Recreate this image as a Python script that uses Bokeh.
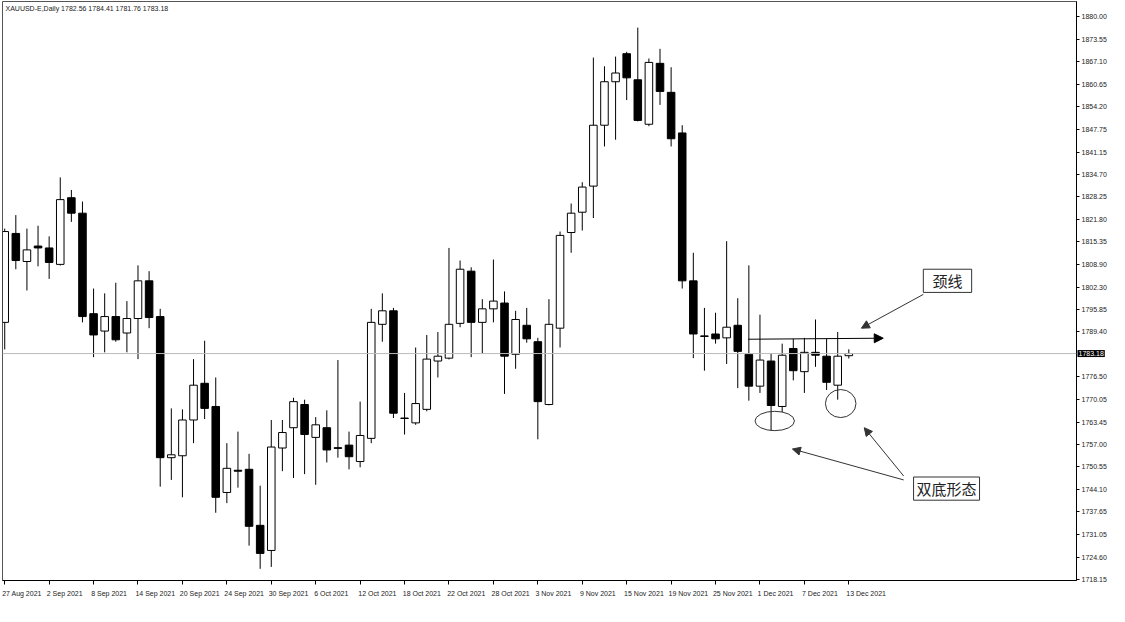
from bokeh.plotting import figure
from bokeh.models import (Range1d, FixedTicker, Span, Label, Arrow, NormalHead,
                          ColumnDataSource, PrintfTickFormatter)
from bokeh.embed import file_html
from bokeh.resources import INLINE
from bokeh.core.properties import value

# ---------------- data (XAUUSD daily, 27 Aug 2021 - 13 Dec 2021) ----------------
opens = [1792.15, 1817.73, 1809.66, 1814.11, 1813.56, 1808.83, 1828.01, 1823.56, 1794.65, 1789.65,
         1793.82, 1789.09, 1793.26, 1804.10, 1793.82, 1753.23, 1753.78, 1764.07, 1774.63, 1767.96,
         1743.22, 1749.61, 1749.89, 1733.77, 1726.54, 1756.01, 1761.85, 1768.52, 1759.07, 1761.85,
         1756.10, 1756.84, 1752.12, 1758.79, 1791.59, 1795.48, 1764.63, 1763.24, 1767.13, 1781.03,
         1781.86, 1791.87, 1806.88, 1792.15, 1796.04, 1797.71, 1782.97, 1791.31, 1786.59, 1768.52,
         1790.48, 1818.00, 1823.84, 1831.35, 1848.86, 1861.37, 1869.44, 1861.93, 1849.14, 1866.66,
         1858.32, 1846.64, 1804.10, 1788.26, 1788.81, 1787.70, 1791.31, 1782.97, 1773.80, 1781.03,
         1767.96, 1784.64, 1777.97, 1783.53, 1782.42, 1774.08, 1782.56]
highs = [1819.12, 1823.01, 1819.12, 1819.95, 1816.89, 1833.85, 1830.24, 1826.90, 1801.88, 1800.49,
         1803.55, 1798.27, 1808.55, 1806.88, 1796.04, 1767.41, 1767.13, 1781.58, 1786.87, 1776.30,
         1757.40, 1760.73, 1754.34, 1745.17, 1764.07, 1764.07, 1770.46, 1769.91, 1764.90, 1766.85,
         1781.31, 1760.73, 1769.35, 1796.04, 1800.49, 1796.32, 1771.85, 1784.92, 1788.53, 1789.37,
         1813.56, 1809.94, 1808.00, 1798.82, 1810.22, 1801.05, 1795.48, 1796.32, 1787.70, 1798.82,
         1818.28, 1826.34, 1832.46, 1868.32, 1865.82, 1868.60, 1869.99, 1876.94, 1868.05, 1870.83,
         1865.54, 1848.86, 1812.17, 1796.32, 1794.93, 1815.50, 1799.10, 1808.55, 1794.37, 1783.25,
         1786.03, 1787.42, 1787.70, 1792.98, 1787.42, 1789.37, 1784.41]
lows = [1784.36, 1807.44, 1801.32, 1808.27, 1804.66, 1808.50, 1821.06, 1792.15, 1782.14, 1783.53,
        1786.59, 1783.53, 1781.58, 1790.48, 1744.89, 1746.83, 1741.83, 1757.40, 1764.35, 1737.38,
        1740.16, 1744.61, 1727.93, 1721.26, 1721.81, 1749.34, 1747.39, 1748.50, 1745.44, 1751.84,
        1753.23, 1749.89, 1750.45, 1757.40, 1786.59, 1764.63, 1759.90, 1762.68, 1766.57, 1776.30,
        1781.50, 1790.76, 1782.14, 1783.25, 1792.15, 1771.58, 1778.80, 1786.31, 1758.51, 1768.30,
        1784.92, 1812.17, 1818.56, 1822.17, 1842.75, 1844.69, 1856.09, 1849.97, 1848.58, 1854.70,
        1842.75, 1801.88, 1781.86, 1778.25, 1786.03, 1780.19, 1773.24, 1769.63, 1771.85, 1761.01,
        1766.29, 1775.47, 1771.85, 1779.36, 1772.69, 1769.91, 1781.76]
closes = [1818.28, 1809.94, 1813.00, 1813.56, 1809.39, 1827.46, 1823.56, 1793.82, 1788.53, 1793.82,
          1787.14, 1793.26, 1804.10, 1793.54, 1753.23, 1754.06, 1764.07, 1774.08, 1767.41, 1741.83,
          1750.17, 1749.34, 1733.49, 1725.70, 1756.29, 1760.46, 1769.35, 1759.90, 1762.68, 1755.45,
          1755.90, 1753.51, 1759.62, 1792.15, 1795.48, 1766.02, 1764.50, 1768.80, 1781.58, 1782.42,
          1791.59, 1807.44, 1792.15, 1796.04, 1798.27, 1782.42, 1792.98, 1787.42, 1769.35, 1791.59,
          1817.17, 1823.56, 1831.07, 1848.86, 1861.37, 1863.88, 1862.49, 1850.25, 1866.93, 1858.59,
          1844.97, 1804.10, 1788.81, 1788.10, 1787.42, 1790.76, 1783.81, 1773.80, 1781.31, 1768.24,
          1782.70, 1778.25, 1783.53, 1782.70, 1774.91, 1782.42, 1783.18]

date_labels = ["27 Aug 2021", "2 Sep 2021", "8 Sep 2021", "14 Sep 2021", "20 Sep 2021",
               "24 Sep 2021", "30 Sep 2021", "6 Oct 2021", "12 Oct 2021", "18 Oct 2021",
               "22 Oct 2021", "28 Oct 2021", "3 Nov 2021", "9 Nov 2021", "15 Nov 2021",
               "19 Nov 2021", "25 Nov 2021", "1 Dec 2021", "7 Dec 2021", "13 Dec 2021"]
date_label_bars = [0, 4, 8, 12, 16, 20, 24, 28, 32, 36, 40, 44, 48, 52, 56, 60, 64, 68, 72, 76]

price_ticks = [1880.00, 1873.55, 1867.10, 1860.65, 1854.20, 1847.75, 1841.15, 1834.70, 1828.25,
               1821.80, 1815.35, 1808.90, 1802.30, 1795.85, 1789.40, 1776.50, 1770.05, 1763.45,
               1757.00, 1750.55, 1744.10, 1737.65, 1731.05, 1724.60, 1718.15]

last_price = 1783.18
title_text = "XAUUSD-E,Daily  1782.56 1784.41 1781.76 1783.18"
neck_text = "颈线"
pattern_text = "双底形态"

# ---------------- figure ----------------
FONT = "Liberation Sans"
X0, X1 = -0.2, 96.5
p = figure(width=1109, height=606, x_range=Range1d(X0, X1), y_range=Range1d(1717.9, 1884.45),
           y_axis_location="right", output_backend="svg", toolbar_location=None,
           min_border_left=2, min_border_right=0, min_border_top=1, min_border_bottom=0)
p.background_fill_color = "white"
p.border_fill_color = "white"
p.outline_line_color = "#555555"
p.xgrid.visible = False
p.ygrid.visible = False

# date labels start at their bar (MT4 style): shift label anchor by half the label width
label_pos = [b + 0.155 * len(l) - 0.15 for b, l in zip(date_label_bars, date_labels)]
xa = p.xaxis[0]
xa.ticker = FixedTicker(ticks=label_pos, minor_ticks=date_label_bars)
xa.major_label_overrides = {pos: l for pos, l in zip(label_pos, date_labels)}
xa.major_tick_line_color = None
xa.minor_tick_line_color = "black"
xa.minor_tick_in = 0
xa.minor_tick_out = 4
xa.major_label_standoff = 3
ya = p.yaxis[0]
ya.ticker = FixedTicker(ticks=price_ticks)
ya.formatter = PrintfTickFormatter(format="%.2f")
ya.major_tick_line_color = "black"
ya.minor_tick_line_color = None
ya.major_tick_in = 0
ya.major_tick_out = 3
ya.major_label_standoff = 2
ya.axis_label_standoff = 0
for ax in (xa, ya):
    ax.major_label_text_font = FONT
    ax.major_label_text_font_size = "7px"
    ax.major_label_text_color = "#222222"
    ax.axis_line_color = "black"

# current price line
p.add_layout(Span(location=last_price, dimension="width", line_color="#bbbbbb", line_width=1))

# candles
n = len(opens)
idx = list(range(n))
up = [c >= o for o, c in zip(opens, closes)]
src = ColumnDataSource(dict(
    x=idx, high=highs, low=lows,
    top=[max(o, c) for o, c in zip(opens, closes)],
    bottom=[min(o, c) for o, c in zip(opens, closes)],
    fill=["white" if u else "black" for u in up],
))
p.segment(x0="x", y0="high", x1="x", y1="low", source=src, line_color="black", line_width=1)
p.vbar(x="x", width=0.68, top="top", bottom="bottom", source=src,
       fill_color="fill", line_color="black", line_width=1)

# title
p.add_layout(Label(x=X0, y=1884.45, x_offset=3, y_offset=-3, text=title_text,
                   text_font=FONT, text_font_size="7px", text_color="#222222",
                   text_baseline="top", text_align="left"))

# current price tag on the price axis (lives in a thin side panel so it is not clipped)
tag = Label(x=X1, y=last_price, x_offset=1, text="%.2f" % last_price,
            text_font=FONT, text_font_size="7px", text_color="white",
            text_baseline="middle", text_align="left",
            background_fill_color="black", padding=1)
p.add_layout(tag, "below")

# ---------------- annotations ----------------
p.add_layout(Arrow(x_start=66.93, y_start=1787.3, x_end=79.1, y_end=1787.6,
                   line_color="black", line_width=1,
                   end=NormalHead(size=9, fill_color="black", line_color="black")))
p.quad(left=[82.71], right=[87.06], top=[1807.44], bottom=[1800.77],
       fill_color="white", line_color="#333333", line_width=1)
p.text(x=[84.88], y=[1804.1], text=[neck_text], text_font=value("Noto Sans CJK SC"),
       text_font_size="15px", text_align="center", text_baseline="middle", text_color="#222222")
p.add_layout(Arrow(x_start=82.71, y_start=1800.2, x_end=77.13, y_end=1790.48,
                   line_color="#333333", line_width=1,
                   end=NormalHead(size=8, fill_color="#333333", line_color="#333333")))
p.ellipse(x=[69.33, 75.27], y=[1763.79, 1768.80], width=[3.55, 2.75], height=[5.56, 8.06],
          fill_color=None, line_color="#333333", line_width=1)
p.quad(left=[81.83], right=[87.77], top=[1747.67], bottom=[1741.0],
       fill_color="white", line_color="#333333", line_width=1)
p.text(x=[84.8], y=[1744.33], text=[pattern_text], text_font=value("Noto Sans CJK SC"),
       text_font_size="15px", text_align="center", text_baseline="middle", text_color="#222222")
p.add_layout(Arrow(x_start=80.94, y_start=1747.95, x_end=77.39, y_end=1761.85,
                   line_color="#333333", line_width=1,
                   end=NormalHead(size=8, fill_color="#333333", line_color="#333333")))
p.add_layout(Arrow(x_start=80.94, y_start=1746.83, x_end=70.92, y_end=1755.73,
                   line_color="#333333", line_width=1,
                   end=NormalHead(size=8, fill_color="#333333", line_color="#333333")))

open("out.html", "w").write(file_html(p, INLINE))
